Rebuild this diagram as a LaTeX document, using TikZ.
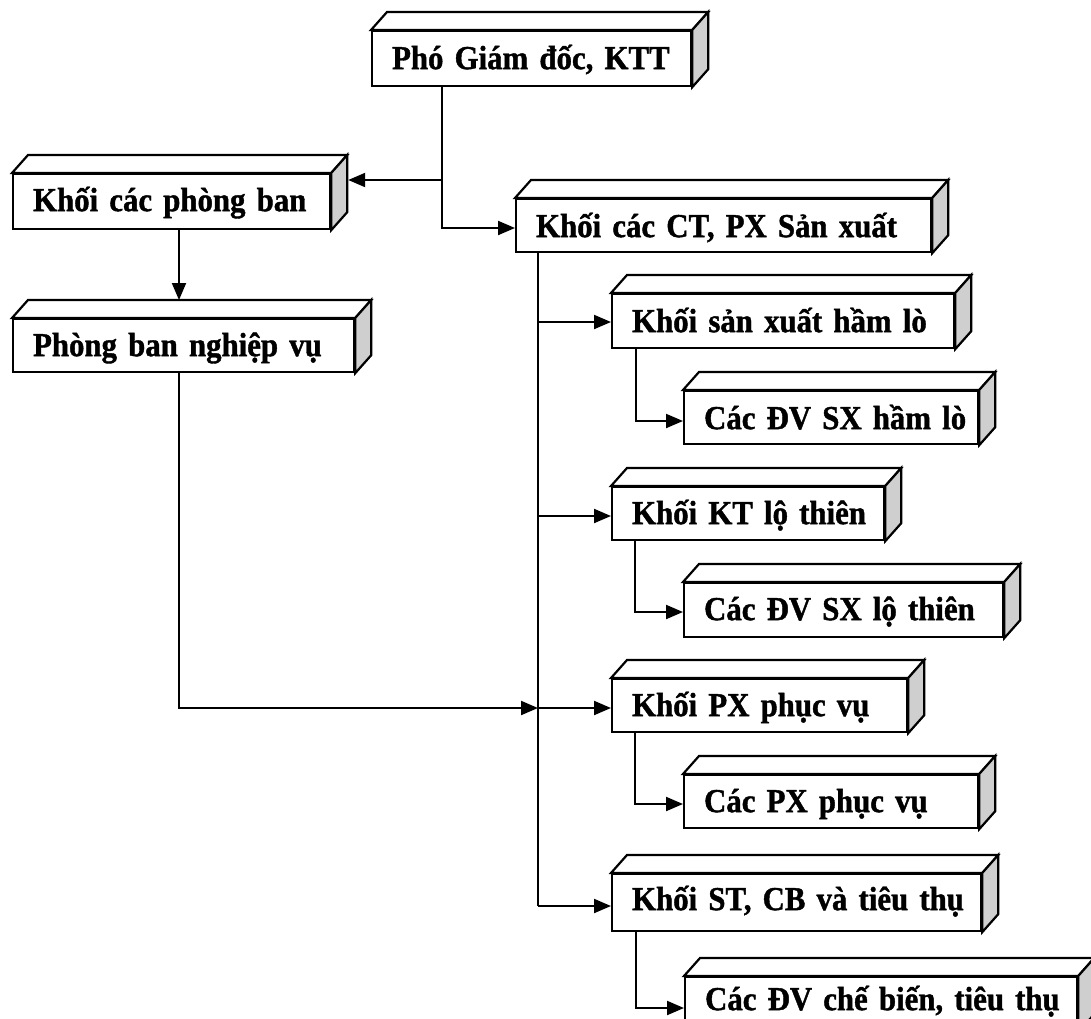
\documentclass[tikz,border=0pt]{standalone}
\usepackage{fontspec}
\setmainfont{Liberation Serif}[FakeStretch=0.92, FakeBold=1.2]
\usetikzlibrary{arrows.meta,calc}

\tikzset{
  blk/.style n args={3}{draw, line width=2.2pt, fill=white, rectangle,
    anchor=north west, inner xsep=20pt, inner ysep=0pt, align=left,
    text width=#1, text height=#2, text depth=#3,
    font=\bfseries\fontsize{33.5}{38}\selectfont},
  topface/.style={draw, line width=2.2pt, fill=white},
  sideface/.style={draw, line width=2.2pt, fill=black!19},
  link/.style={line width=2pt},
  arr/.style={link, -{Triangle[length=17pt,width=14pt]}},
}

% top and right faces of a prism box built on a front-face node
\newcommand\prismfaces[1]{%
  \draw[topface] (#1.north west) -- ++(16,-18) -- ($(#1.north east)+(16,-18)$)
    -- (#1.north east) -- cycle;
  \draw[sideface] (#1.north east) -- ++(16,-18) -- ($(#1.south east)+(16,-18)$)
    -- (#1.south east) -- cycle;}

\begin{document}
\begin{tikzpicture}[x=1pt, y=-1pt]
\useasboundingbox (0,0) rectangle (1091,1018);
\clip (0,0) rectangle (1091,1018);

% boxes
\node[blk={279pt}{38pt}{17pt}] (b1)  at (371,30)  {\mbox{Phó Giám đốc, KTT}};
\node[blk={277pt}{37pt}{18pt}] (b2)  at (12,173)  {\mbox{Khối các phòng ban}};
\node[blk={301pt}{37pt}{16pt}] (b3)  at (12,318)  {\mbox{Phòng ban nghiệp vụ}};
\node[blk={375pt}{38pt}{15pt}] (b4)  at (515,198) {\mbox{Khối các CT, PX Sản xuất}};
\node[blk={302pt}{38pt}{16pt}] (b5)  at (611,293) {\mbox{Khối sản xuất hầm lò}};
\node[blk={254pt}{38pt}{15pt}] (b6)  at (683,390) {\mbox{Các ĐV SX hầm lò}};
\node[blk={232pt}{37pt}{16pt}] (b7)  at (611,486) {\mbox{Khối KT lộ thiên}};
\node[blk={279pt}{37pt}{17pt}] (b8)  at (683,582) {\mbox{Các ĐV SX lộ thiên}};
\node[blk={255pt}{37pt}{16pt}] (b9)  at (611,678) {\mbox{Khối PX phục vụ}};
\node[blk={254pt}{37pt}{16pt}] (b10) at (683,774) {\mbox{Các PX phục vụ}};
\node[blk={329pt}{36pt}{21pt}] (b11) at (611,873) {\mbox{Khối ST, CB và tiêu thụ}};
\node[blk={352pt}{33pt}{21pt}] (b12) at (684,976) {\mbox{Các ĐV chế biến, tiêu thụ}};

\foreach \b in {b1,b2,b3,b4,b5,b6,b7,b8,b9,b10,b11,b12} {\prismfaces{\b}}

% junction points
\coordinate (j1)  at (442,180);
\coordinate (j2)  at (442,228);
\coordinate (c2)  at (179,250);
\coordinate (j3)  at (179,708);
\coordinate (t5)  at (538,322);
\coordinate (t7)  at (538,516);
\coordinate (t9)  at (538,708);
\coordinate (t11) at (538,906);
\coordinate (s6)  at (636,421);
\coordinate (s8)  at (635,612);
\coordinate (s10) at (635,804);
\coordinate (s12) at (636,1008);

% connectors
\draw[arr] (b1.south -| j1) -- (j2) -- (j2 -| b4.west);
\draw[arr] (j1) -- ($(j1 -| b2.east)+(17,0)$);
\draw[arr] (b2.south -| c2) -- ($(b3.north -| c2)+(0,-18)$);
\draw[arr] (b3.south -| j3) -- (j3) -- (t9);

\draw[link] (b4.south -| t11) -- (t11);
\draw[arr] (t5)  -- (t5 -| b5.west);
\draw[arr] (t7)  -- (t7 -| b7.west);
\draw[arr] (t9)  -- (t9 -| b9.west);
\draw[arr] (t11) -- (t11 -| b11.west);

\draw[arr] (b5.south -| s6)   -- (s6)  -- (s6 -| b6.west);
\draw[arr] (b7.south -| s8)   -- (s8)  -- (s8 -| b8.west);
\draw[arr] (b9.south -| s10)  -- (s10) -- (s10 -| b10.west);
\draw[arr] (b11.south -| s12) -- (s12) -- (s12 -| b12.west);
\end{tikzpicture}
\end{document}
